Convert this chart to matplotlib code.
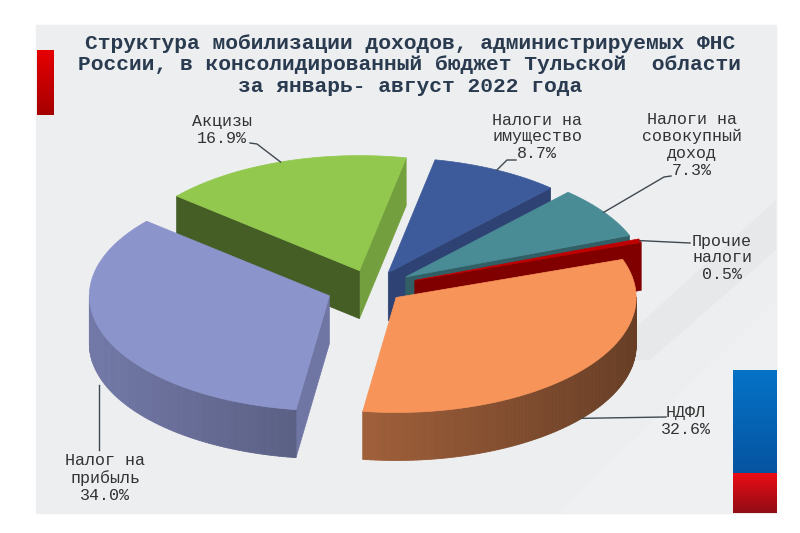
import numpy as np
import matplotlib
matplotlib.use("Agg")
import matplotlib.pyplot as plt
from matplotlib.patches import Polygon, Rectangle
from matplotlib.colors import to_rgb

# данные
labels = ["НДФЛ", "Прочие\nналоги", "Налоги на\nсовокупный\nдоход",
          "Налоги на\nимущество", "Акцизы", "Налог на\nприбыль"]
shares = [32.6, 0.5, 7.3, 8.7, 16.9, 34.0]
top_colors = ["#F7945A", "#C00000", "#4A8C96", "#3D5A9A", "#92C84E", "#8C94CC"]
explode = [0.13, 0.19, 0.17, 0.15, 0.16, 0.19]

title = ("Структура мобилизации доходов, администрируемых ФНС\n"
         "России, в консолидированный бюджет Тульской  области\n"
         "за январь- август 2022 года")

# геометрия псевдо-3D пирога (в пикселях)
cx, cy = 372, 288
rx, ry, depth = 240, 115, 48
start = -98.0

edges = start + 360.0 * np.concatenate([[0], np.cumsum(shares)]) / sum(shares)
mids = (edges[:-1] + edges[1:]) / 2


def shade(c, f):
    return tuple(np.clip(np.array(to_rgb(c)) * f, 0, 1))


def arc_pt(v, th, dz=0):
    t = np.radians(th)
    return (v[0] + rx * np.cos(t), v[1] - ry * np.sin(t) + dz)


fig = plt.figure(figsize=(8, 5.33), dpi=100)
ax = fig.add_axes([0, 0, 1, 1])
ax.set_xlim(0, 800)
ax.set_ylim(533, 0)
ax.axis("off")

# фон панели
ax.add_patch(Rectangle((36, 25), 740, 488, color="#ECEEF0", zorder=0))
ax.add_patch(Polygon([(560, 513), (776, 300), (776, 513)], closed=True,
                     color="#EFF0F1", zorder=0.1, lw=0))
ax.add_patch(Polygon([(600, 360), (776, 200), (776, 250), (650, 360)], closed=True,
                     color="#E7E8EA", zorder=0.1, lw=0))

# цветные полоски
grad = np.linspace(0, 1, 50).reshape(-1, 1)
ax.imshow(np.dstack([0.9 - 0.25 * grad, 0 * grad, 0 * grad]),
          extent=(37, 54, 115, 50), aspect="auto", zorder=1)
ax.imshow(np.dstack([0.02 + 0 * grad, 0.45 - 0.12 * grad, 0.78 - 0.15 * grad]),
          extent=(733, 777, 473, 370), aspect="auto", zorder=1)
ax.imshow(np.dstack([0.92 - 0.35 * grad, 0.05 + 0 * grad, 0.08 + 0 * grad]),
          extent=(733, 777, 513, 473), aspect="auto", zorder=1)

verts = []
for i in range(len(shares)):
    m = np.radians(mids[i])
    verts.append((cx + explode[i] * rx * np.cos(m), cy - explode[i] * ry * np.sin(m)))

order = np.argsort(-np.sin(np.radians(mids)))
z = 2
for i in order:
    a1, a2 = edges[i], edges[i + 1]
    v = verts[i]
    col = top_colors[i]
    # боковые радиальные грани
    for a, normal, vis in [(a1, a1 - 90, np.cos(np.radians(a1)) > 0),
                           (a2, a2 + 90, np.cos(np.radians(a2)) < 0)]:
        if vis:
            p = arc_pt(v, a)
            f = 0.6 + 0.2 * np.cos(np.radians(normal))
            ax.add_patch(Polygon([v, p, (p[0], p[1] + depth), (v[0], v[1] + depth)],
                                 closed=True, fc=shade(col, f), ec=shade(col, f),
                                 lw=0.5, zorder=z))
            z += 1
    # внешняя дуговая грань
    ths = np.linspace(a1, a2, max(int(abs(a2 - a1)), 2) + 1)
    for t0, t1 in zip(ths[:-1], ths[1:]):
        tm = (t0 + t1) / 2
        if np.sin(np.radians(tm)) < 0:
            f = 0.62 - 0.2 * np.cos(np.radians(tm))
            p0, p1 = arc_pt(v, t0), arc_pt(v, t1)
            ax.add_patch(Polygon([p0, p1, (p1[0], p1[1] + depth), (p0[0], p0[1] + depth)],
                                 closed=True, fc=shade(col, f), ec=shade(col, f),
                                 lw=0.6, zorder=z))
    z += 1
    # верхняя грань
    ths = np.linspace(a1, a2, max(int(abs(a2 - a1)) * 2, 4))
    ax.add_patch(Polygon([v] + [arc_pt(v, t) for t in ths], closed=True,
                         fc=col, ec=col, lw=0.5, zorder=z))
    z += 1

# подписи
text_kw = dict(family="Liberation Mono", fontsize=12, color="#333333",
               ha="center", va="center", linespacing=1.15, zorder=50)
label_pos = [(686, 421), (722, 258), (692, 145), (537, 137), (222, 130), (105, 478)]
for i in range(len(shares)):
    ax.text(label_pos[i][0], label_pos[i][1], f"{labels[i]}\n{shares[i]:.1f}%", **text_kw)

# линии-выноски
anchors = []
for i in range(len(shares)):
    p = arc_pt(verts[i], mids[i])
    if np.sin(np.radians(mids[i])) < 0:
        p = (p[0], p[1] + depth)
    anchors.append(p)

leader_starts = [[(666, 417)], [(690, 243)], [(671, 176), (664, 177)],
                 [(516, 160), (507, 160)], [(250, 143), (257, 144)], [(99, 450)]]
for i in range(len(shares)):
    pts = leader_starts[i] + [anchors[i]]
    if i == 5:
        pts = [(99, 450), (99, anchors[i][1])]
    xs, ys = zip(*pts)
    ax.plot(xs, ys, color="#404850", lw=1, zorder=49)

ax.text(410, 65, title, family="Liberation Mono", fontweight="bold", fontsize=15.3,
        color="#2A3B50", ha="center", va="center", linespacing=1.15, zorder=50)

fig.savefig("out.png", dpi=100)
